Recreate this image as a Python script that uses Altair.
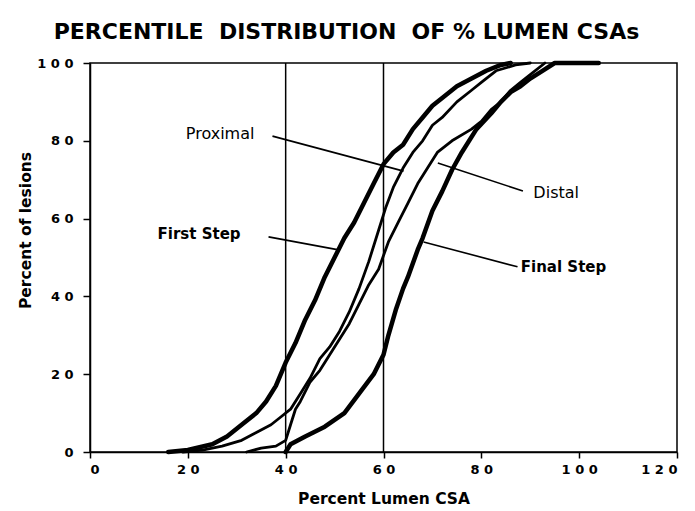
import altair as alt
import pandas as pd

# ---- data ----
first_x = [16, 20, 25, 28, 31, 34, 36, 38, 40, 42, 44, 46, 48, 50, 52, 54, 56, 58, 60, 62, 64, 66, 68, 70, 72, 75, 78, 81, 84, 86]
first_y = [0, 0.5, 2, 4, 7, 10, 13, 17, 23, 28, 34, 39, 45, 50, 55, 59, 64, 69, 74, 77, 79, 83, 86, 89, 91, 94, 96, 98, 99.5, 100]

prox_x = [19, 23, 27, 31, 34, 37, 39, 41, 43, 45, 47, 49, 51, 53, 55, 57, 59, 60.5, 62, 64, 66, 68, 70, 72, 75, 78, 80, 83, 87, 90]
prox_y = [0, 0.5, 1.5, 3, 5, 7, 9, 11, 15, 19, 24, 27, 31, 36, 42, 49, 57, 63, 68, 73, 77, 80, 84, 86, 90, 93, 95, 98, 99.5, 100]

dist_x = [32, 35, 38, 40, 41, 42, 43, 45, 47, 49, 51, 53, 55, 57, 59, 61, 63, 65, 67, 69, 71, 74, 78, 80, 82, 84, 86, 88, 90, 93]
dist_y = [0, 1, 1.5, 3, 7, 11, 13, 18, 21, 25, 29, 33, 38, 43, 47, 54, 59, 64, 69, 73, 77, 80, 83, 85, 88, 90, 93, 95, 97, 100]

final_x = [40, 41, 44, 48, 52, 55, 58, 60, 61, 62.5, 64, 65, 67, 68, 70, 72, 74, 76, 79, 82, 84, 86, 88, 90, 92.5, 95, 101, 104]
final_y = [0, 2, 4, 6.5, 10, 15, 20, 25, 30, 36.5, 42, 45, 52, 55, 62, 67, 72.5, 77, 83, 87, 90, 92.5, 94, 96, 98, 100, 100, 100]

cutoffs = [40, 60]

x_ticks = [0, 20, 40, 60, 80, 100, 120]
y_ticks = [0, 20, 40, 60, 80, 100]

# annotation labels and their leader lines (data coordinates)
label_text = ["Proximal", "First Step", "Distal", "Final Step"]
label_bold = [False, True, False, True]
label_x = [26.6, 22.3, 95.3, 96.8]
label_y = [81.7, 56.0, 66.6, 47.6]
leader_x1 = [37.3, 36.5, 71.1, 68.2]
leader_y1 = [81.2, 55.3, 74.3, 54.0]
leader_x2 = [64.1, 51.1, 88.5, 87.4]
leader_y2 = [72.2, 51.9, 67.1, 47.6]


def curve_table(pairs):
    rows = []
    for name, xs, ys in pairs:
        for i, (xv, yv) in enumerate(zip(xs, ys)):
            rows.append({"series": name, "x": xv, "y": yv, "order": i})
    return pd.DataFrame(rows)


thick_df = curve_table([("First Step", first_x, first_y), ("Final Step", final_x, final_y)])
thin_df = curve_table([("Proximal", prox_x, prox_y), ("Distal", dist_x, dist_y)])

cut_df = pd.DataFrame({"x": cutoffs, "y": [0] * len(cutoffs), "y2": [100] * len(cutoffs)})
lead_df = pd.DataFrame({"x": leader_x1, "y": leader_y1, "x2": leader_x2, "y2": leader_y2})
lab_df = pd.DataFrame({"text": label_text, "bold": label_bold, "x": label_x, "y": label_y})

FONT = "DejaVu Sans"
XT = "Percent Lumen CSA"
YT = "Percent of lesions"
xscale = alt.Scale(domain=[0, 120], nice=False, zero=False)
yscale = alt.Scale(domain=[0, 100], nice=False, zero=False)

spaced = "join(split(datum.label, ''), ' ')"

x_axis = alt.Axis(values=x_ticks, title=XT, labelExpr=spaced, grid=False,
                  tickSize=6, labelPadding=5, titleY=46, titleBaseline="middle")
y_axis = alt.Axis(values=y_ticks, title=YT, labelExpr=spaced, grid=False,
                  tickSize=7, labelPadding=10, titleX=-65, titleY=167,
                  titleBaseline="middle", titleAlign="center", titleAngle=270)

thick = alt.Chart(thick_df).mark_line(color="black", strokeWidth=4.5, strokeJoin="round", strokeCap="round").encode(
    x=alt.X("x:Q", scale=xscale, axis=x_axis),
    y=alt.Y("y:Q", scale=yscale, axis=y_axis),
    detail="series:N",
    order="order:Q",
)

thin = alt.Chart(thin_df).mark_line(color="black", strokeWidth=2.8, strokeJoin="round", strokeCap="round").encode(
    x=alt.X("x:Q", title=XT),
    y=alt.Y("y:Q", title=YT),
    detail="series:N",
    order="order:Q",
)

cuts = alt.Chart(cut_df).mark_rule(color="black", strokeWidth=1.5).encode(
    x=alt.X("x:Q", title=XT), y=alt.Y("y:Q", title=YT), y2="y2:Q"
)

leaders = alt.Chart(lead_df).mark_rule(color="black", strokeWidth=1.6).encode(
    x=alt.X("x:Q", title=XT), y=alt.Y("y:Q", title=YT), x2="x2:Q", y2="y2:Q"
)

lab_normal = alt.Chart(lab_df).transform_filter("!datum.bold").mark_text(
    font=FONT, fontSize=16, color="black", align="center", baseline="middle"
).encode(x=alt.X("x:Q", title=XT), y=alt.Y("y:Q", title=YT), text="text:N")

lab_bold = alt.Chart(lab_df).transform_filter("datum.bold").mark_text(
    font=FONT, fontSize=15, fontWeight="bold", color="black", align="center", baseline="middle"
).encode(x=alt.X("x:Q", title=XT), y=alt.Y("y:Q", title=YT), text="text:N")

chart = alt.layer(cuts, leaders, thin, thick, lab_normal, lab_bold).properties(
    width=587,
    height=389,
    autosize=alt.AutoSizeParams(type="none"),
    padding={"left": 82, "top": 55, "right": 10, "bottom": 55},
    title=alt.TitleParams(
        "PERCENTILE\u00a0 DISTRIBUTION\u00a0 OF % LUMEN CSAs",
        font=FONT, fontSize=22, fontWeight="bold", color="black",
        anchor="middle", dx=-37, offset=13,
    ),
).configure_view(
    stroke="black", strokeWidth=1.5
).configure_axis(
    domainColor="black", domainWidth=1.5, tickColor="black", tickWidth=1.5,
    labelFont=FONT, labelFontSize=13, labelFontWeight="bold", labelColor="black",
    titleFont=FONT, titleFontSize=15.5, titleFontWeight="bold", titleColor="black",
)

chart.save("out.html", embed_options={"renderer": "svg", "actions": False})
